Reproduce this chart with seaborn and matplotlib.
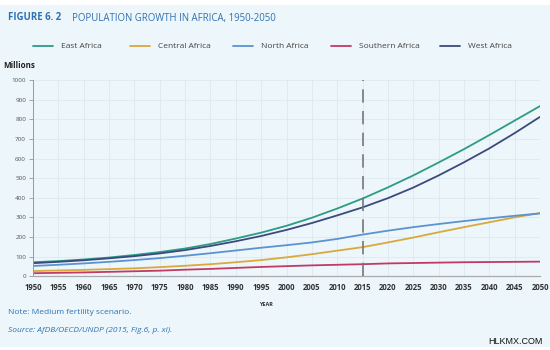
import numpy as np
import pandas as pd
import matplotlib
matplotlib.use("Agg")
import matplotlib.pyplot as plt
import seaborn as sns

years = list(range(1950, 2051, 5))
east = [71, 77, 85, 95, 108, 123, 141, 164, 192, 222, 257, 298, 345, 396, 453, 514, 580, 648, 720, 794, 868]
central = [26, 29, 32, 36, 40, 46, 53, 61, 71, 82, 96, 112, 130, 148, 172, 197, 224, 250, 275, 300, 322]
north = [52, 58, 65, 73, 82, 92, 104, 117, 131, 145, 158, 172, 190, 212, 232, 250, 266, 281, 295, 308, 320]
southern = [15, 17, 19, 22, 25, 28, 33, 37, 42, 47, 51, 55, 58, 61, 65, 67, 69, 71, 72, 73, 74]
west = [66, 73, 81, 91, 102, 116, 133, 154, 178, 205, 236, 271, 310, 351, 398, 452, 514, 581, 652, 730, 813]
regions = ["East Africa", "Central Africa", "North Africa", "Southern Africa", "West Africa"]
colors = ["#2e9a88", "#d9a93c", "#5b93d0", "#c23a64", "#3b4a7c"]
tick_years = years
y_ticks = list(range(0, 1001, 100))

df = pd.DataFrame({
    "Year": years * 5,
    "Population": east + central + north + southern + west,
    "Region": sum([[r] * len(years) for r in regions], []),
})

bg = "#edf6fa"
sns.set_theme(style="white")
plt.rcParams["font.family"] = ["Open Sans", "DejaVu Sans"]

fig = plt.figure(figsize=(5.5, 3.5), dpi=100, facecolor=bg)
fig.patches.append(plt.Rectangle((0, 1 - 5 / 350), 1, 5 / 350, transform=fig.transFigure,
                                 facecolor="white", edgecolor="none", zorder=-1))
fig.patches.append(plt.Rectangle((0, 0), 1, 3 / 350, transform=fig.transFigure,
                                 facecolor="white", edgecolor="none", zorder=-1))
ax = fig.add_axes([0.06, 0.211, 0.922, 0.56], facecolor=bg)

sns.lineplot(data=df, x="Year", y="Population", hue="Region", hue_order=regions,
             palette=colors, linewidth=1.3, ax=ax, legend=False)

ax.axvline(2015, color="#777777", linestyle=(0, (8, 5)), linewidth=1.2, zorder=5)

ax.set_xlim(1950, 2050)
ax.set_ylim(0, 1000)
ax.set_xticks(tick_years)
ax.set_xticklabels([str(t) for t in tick_years], fontsize=5.6, fontweight="bold", color="#333333")
ax.set_yticks(y_ticks)
ax.set_yticklabels([str(t) for t in y_ticks], fontsize=4.5, color="#555555")
ax.grid(True, color="#dde9f0", linewidth=0.6)
ax.set_axisbelow(True)
for s in ["top", "right"]:
    ax.spines[s].set_visible(False)
ax.spines["left"].set_color("#999999")
ax.spines["left"].set_linewidth(0.7)
ax.spines["bottom"].set_color("#aaaaaa")
ax.spines["bottom"].set_linewidth(0.9)
ax.tick_params(axis="y", direction="out", length=3, width=0.6, color="#999999", pad=2, left=True)
ax.tick_params(axis="x", length=0, pad=5)
ax.set_xlabel("")
ax.set_ylabel("")

blue = "#2f72b3"
fig.text(8 / 550, 1 - 18 / 350, "FIGURE 6. 2", fontsize=6.9, fontweight="bold", color=blue, va="center")
fig.text(72 / 550, 1 - 18 / 350, "POPULATION GROWTH IN AFRICA, 1950-2050", fontsize=6.9, color=blue, va="center")

leg_x = [33, 130, 233, 331, 440]
for x0, r, c in zip(leg_x, regions, colors):
    y = 1 - 46 / 350
    fig.add_artist(plt.Line2D([x0 / 550, (x0 + 20) / 550], [y, y], color=c, linewidth=1.3, transform=fig.transFigure))
    fig.text((x0 + 28) / 550, y, r, fontsize=6, color="#444444", va="center")

fig.text(3 / 550, 1 - 66 / 350, "Millions", fontsize=5.8, fontweight="bold", color="#222222", va="center")
fig.text(266 / 550, 1 - 305 / 350, "YEAR", fontsize=4, fontweight="bold", color="#333333", va="center", ha="center")
fig.text(8 / 550, 1 - 313 / 350, "Note: Medium fertility scenario.", fontsize=6, color=blue, va="center")
fig.text(8 / 550, 1 - 330 / 350, "Source: AfDB/OECD/UNDP (2015, Fig.6, p. xi).", fontsize=6, color=blue, va="center", style="italic")
fig.text(543 / 550, 1 - 341 / 350, "HLKMX.COM", fontsize=6.5, color="#111111", va="center", ha="right",
         family=["Liberation Sans", "DejaVu Sans"])

fig.savefig("out.png", dpi=100, facecolor=bg)
